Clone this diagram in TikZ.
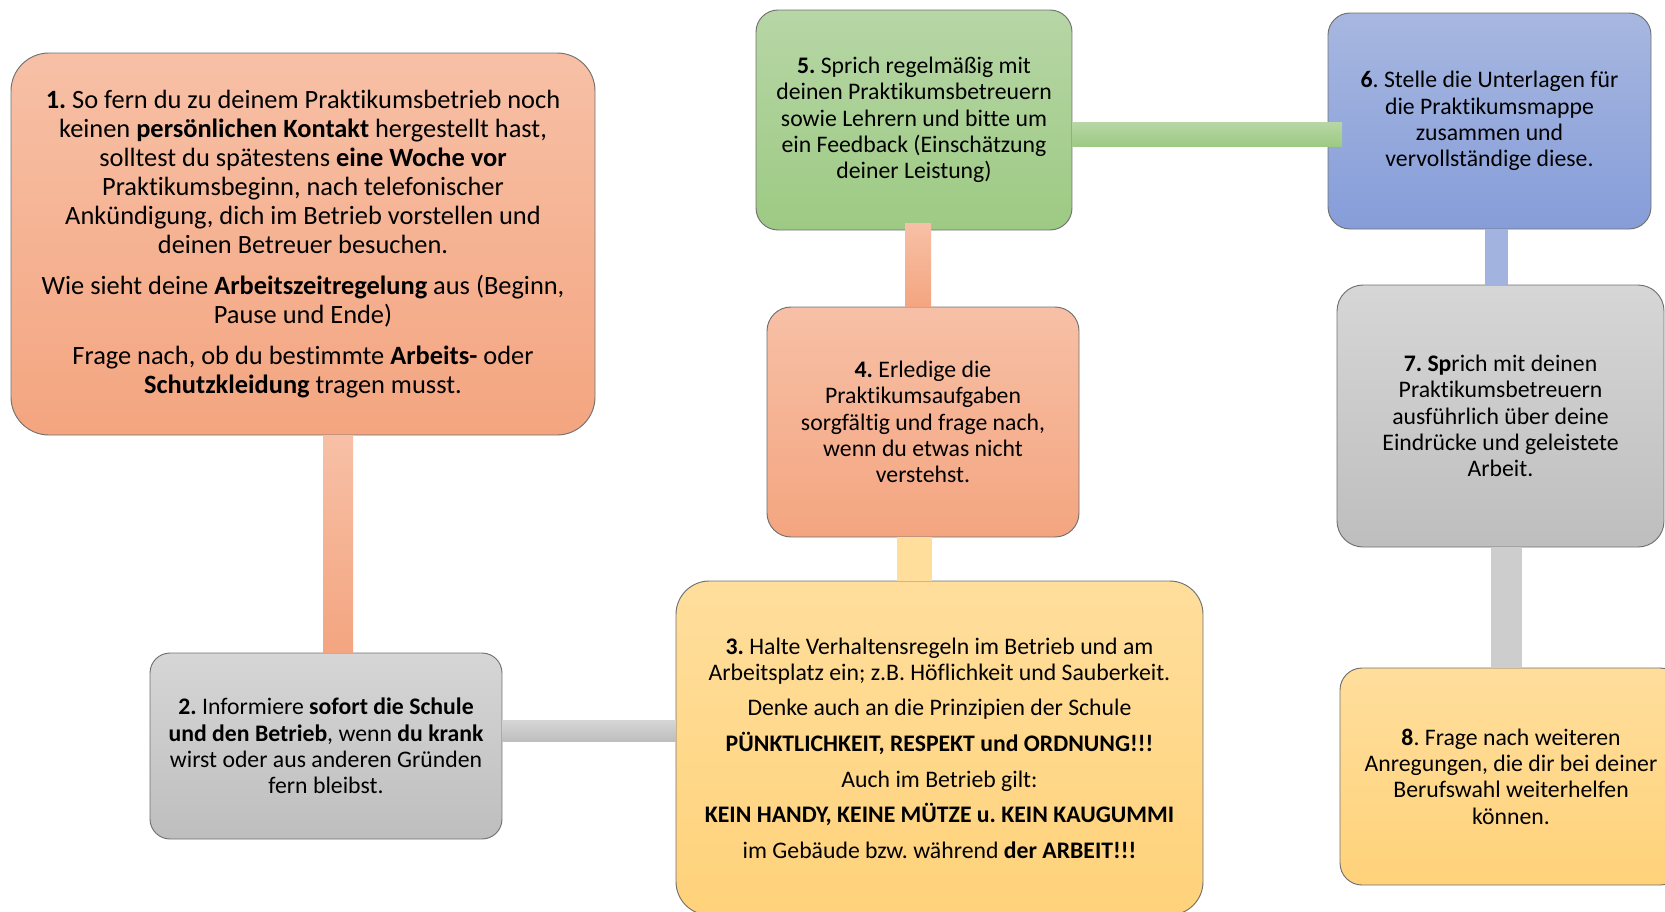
\documentclass[tikz,border=0pt]{standalone}
\usepackage{fontspec}
\setmainfont{Carlito}[Ligatures={NoCommon}]
\frenchspacing
\definecolor{salmonT}{RGB}{247,192,166}
\definecolor{salmonB}{RGB}{244,165,128}
\definecolor{greenT}{RGB}{183,214,166}
\definecolor{greenB}{RGB}{157,202,131}
\definecolor{blueT}{RGB}{167,183,224}
\definecolor{blueB}{RGB}{134,157,217}
\definecolor{grayT}{RGB}{214,214,214}
\definecolor{grayB}{RGB}{190,190,190}
\definecolor{yellowT}{RGB}{255,222,156}
\definecolor{yellowB}{RGB}{255,210,122}
\definecolor{edge}{RGB}{112,112,112}
\tikzset{
  box/.style={draw=edge, line width=0.7pt, inner sep=0pt, align=center, text=black},
  bigfont/.style={font=\fontsize{19.8}{21.8}\selectfont},
  smallfont/.style={font=\fontsize{17.8}{19.7}\selectfont},
  salmonbox/.style={box, top color=salmonT, bottom color=salmonB},
  greenbox/.style={box, top color=greenT, bottom color=greenB},
  bluebox/.style={box, top color=blueT, bottom color=blueB},
  graybox/.style={box, top color=grayT, bottom color=grayB},
  yellowbox/.style={box, top color=yellowT, bottom color=yellowB},
}
\begin{document}
\begin{tikzpicture}[x=0.75pt, y=-0.75pt]
\path[use as bounding box, clip] (0,0) rectangle (1665,911);

% boxes
\node[salmonbox, bigfont, minimum width=438pt, minimum height=286.5pt, rounded corners=28.5pt] (b1) at (303,244) {%
\textbf{1.} So fern du zu deinem Praktikumsbetrieb noch\\
keinen \textbf{persönlichen Kontakt} hergestellt hast,\\
solltest du spätestens \textbf{eine Woche vor}\\
Praktikumsbeginn, nach telefonischer\\
Ankündigung, dich im Betrieb vorstellen und\\
deinen Betreuer besuchen.\\[9pt]
Wie sieht deine \textbf{Arbeitszeitregelung} aus (Beginn,\\
Pause und Ende)\\[9pt]
Frage nach, ob du bestimmte \textbf{Arbeits-} oder\\
\textbf{Schutzkleidung} tragen musst.};

\node[graybox, smallfont, minimum width=264pt, minimum height=139.5pt, rounded corners=15pt] (b2) at (326,746) {%
\textbf{2.} Informiere \textbf{sofort die Schule}\\
\textbf{und den Betrieb}, wenn \textbf{du krank}\\
wirst oder aus anderen Gründen\\
fern bleibst.};

\node[yellowbox, smallfont, minimum width=395.25pt, minimum height=250.5pt, rounded corners=25pt] (b3) at (939.5,748) {%
\textbf{3.} Halte Verhaltensregeln im Betrieb und am\\
Arbeitsplatz ein; z.B. Höflichkeit und Sauberkeit.\\[7pt]
Denke auch an die Prinzipien der Schule\\[7pt]
\textbf{PÜNKTLICHKEIT, RESPEKT und ORDNUNG!!!}\\[7pt]
Auch im Betrieb gilt:\\[7pt]
\textbf{KEIN HANDY, KEINE MÜTZE u. KEIN KAUGUMMI}\\[7pt]
im Gebäude bzw. während \textbf{der ARBEIT!!!}};

\node[salmonbox, smallfont, minimum width=234pt, minimum height=172.5pt, rounded corners=18pt] (b4) at (923,422) {%
\textbf{4.} Erledige die\\
Praktikumsaufgaben\\
sorgfältig und frage nach,\\
wenn du etwas nicht\\
verstehst.};

\node[greenbox, smallfont, minimum width=237pt, minimum height=165pt, rounded corners=16.5pt] (b5) at (914,120) {%
\textbf{5.} Sprich regelmäßig mit\\
deinen Praktikumsbetreuern\\
sowie Lehrern und bitte um\\
ein Feedback (Einschätzung\\
deiner Leistung)};

\node[bluebox, smallfont, minimum width=242.25pt, minimum height=162pt, rounded corners=16.5pt] (b6) at (1489.5,121) {%
\textbf{6}. Stelle die Unterlagen für\\
die Praktikumsmappe\\
zusammen und\\
vervollständige diese.};

\node[graybox, smallfont, minimum width=245.25pt, minimum height=196.5pt, rounded corners=19.5pt] (b7) at (1500.5,416) {%
\textbf{7. Sp}rich mit deinen\\
Praktikumsbetreuern\\
ausführlich über deine\\
Eindrücke und geleistete\\
Arbeit.};

\node[yellowbox, smallfont, minimum width=256.5pt, minimum height=162.75pt, rounded corners=16.5pt] (b8) at (1511,776.5) {%
\textbf{8}. Frage nach weiteren\\
Anregungen, die dir bei deiner\\
Berufswahl weiterhelfen\\
können.};

% connector bars
\coordinate (k12a) at (323,0);
\coordinate (k12b) at (353,0);
\shade[top color=salmonT, bottom color=salmonB] (b1.south -| k12a) rectangle (b2.north -| k12b);

\coordinate (k23a) at (0,720);
\coordinate (k23b) at (0,741);
\shade[top color=grayT, bottom color=grayB] (b2.east |- k23a) rectangle (b3.west |- k23b);

\coordinate (k34a) at (897,0);
\coordinate (k34b) at (932,0);
\fill[yellowT] (b4.south -| k34a) rectangle (b3.north -| k34b);

\coordinate (k45a) at (905,223);
\coordinate (k45b) at (931,0);
\shade[top color=salmonT, bottom color=salmonB] (k45a) rectangle (b4.north -| k45b);

\coordinate (k56a) at (0,122);
\coordinate (k56b) at (1342,146);
\shade[top color=greenT, bottom color=greenB] (b5.east |- k56a) rectangle (k56b);

\coordinate (k67a) at (1485,0);
\coordinate (k67b) at (1508,0);
\fill[blueT!85!blueB] (b6.south -| k67a) rectangle (b7.north -| k67b);

\coordinate (k78a) at (1491,0);
\coordinate (k78b) at (1522,0);
\fill[grayT!60!grayB] (b7.south -| k78a) rectangle (b8.north -| k78b);
\end{tikzpicture}
\end{document}
